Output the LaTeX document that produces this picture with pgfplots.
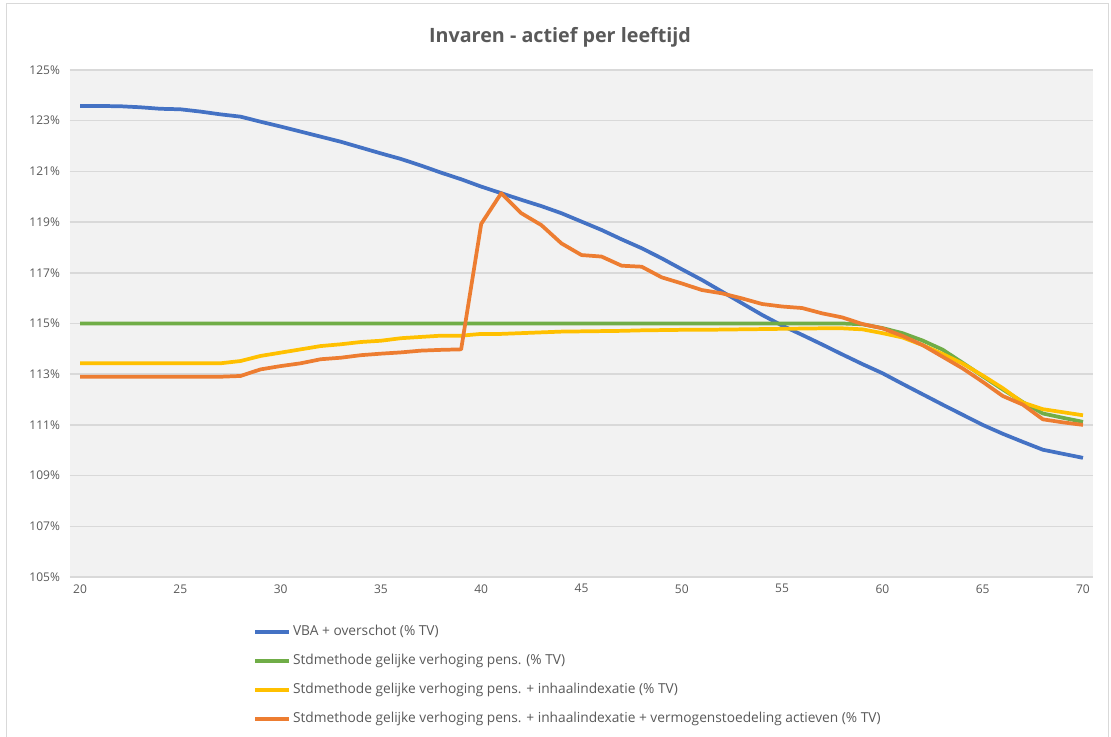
\documentclass[border=0pt]{standalone}
\usepackage{fontspec}
\setmainfont{Open Sans}
\usepackage{pgfplots}
\pgfplotsset{compat=1.18}

\definecolor{txtgray}{HTML}{595959}
\definecolor{gridgray}{HTML}{D9D9D9}
\definecolor{plotbg}{HTML}{F2F2F2}
\definecolor{xlblue}{HTML}{4472C4}
\definecolor{xlgreen}{HTML}{70AD47}
\definecolor{xlyellow}{HTML}{FFC000}
\definecolor{xlorange}{HTML}{ED7D31}

\begin{document}
\begin{tikzpicture}
\useasboundingbox (0,0) rectangle (833.25pt,552pt);
\draw[gridgray, line width=0.75pt] (5pt,-5pt) -- (5pt,549.5pt) -- (831pt,549.5pt) -- (831pt,-5pt);
\node[font=\fontsize{14.8}{17}\selectfont\bfseries, text=txtgray] at (420pt,524.25pt)
  {Invaren - actief per leeftijd};

\begin{axis}[
  at={(52.5pt,119.25pt)}, anchor=south west,
  scale only axis,
  width=767.25pt, height=380.25pt,
  xmin=19.5, xmax=70.5,
  ymin=105, ymax=125,
  xtick={20,25,...,70},
  ytick={105,107,...,125},
  yticklabel={\pgfmathprintnumber{\tick}\%},
  /pgf/number format/assume math mode=true,
  axis line style={draw=none},
  major tick length=0pt,
  ymajorgrids,
  grid style={gridgray, line width=1.1pt},
  axis background/.style={fill=plotbg},
  tick label style={font=\fontsize{9}{11}\selectfont, text=txtgray},
  yticklabel style={xshift=-4pt},
  xticklabel style={yshift=-2pt},
  legend style={at={(0.175,-0.088)}, anchor=north west, draw=none, fill=none,
    font=\fontsize{10.3}{12}\selectfont, text=txtgray,
    legend cell align=left, row sep=10.75pt,
    nodes={inner xsep=1.5pt, inner ysep=0pt, text height=8pt, text depth=3pt}},
  legend image code/.code={\draw[#1] (0pt,0pt) -- (25.5pt,0pt);},
  every axis plot/.append style={line width=2.8pt, line join=round},
]
\addplot[xlblue] coordinates {
  (20,123.58)(21,123.58)(22,123.57)(23,123.53)(24,123.47)(25,123.45)
  (26,123.36)(27,123.25)(28,123.16)(29,122.96)(30,122.77)(31,122.57)
  (32,122.37)(33,122.17)(34,121.94)(35,121.71)(36,121.49)(37,121.23)
  (38,120.95)(39,120.69)(40,120.40)(41,120.14)(42,119.88)(43,119.63)
  (44,119.35)(45,119.02)(46,118.69)(47,118.32)(48,117.97)(49,117.57)
  (50,117.14)(51,116.72)(52,116.26)(53,115.80)(54,115.34)(55,114.92)
  (56,114.55)(57,114.17)(58,113.78)(59,113.40)(60,113.04)(61,112.62)
  (62,112.21)(63,111.80)(64,111.40)(65,111.00)(66,110.65)(67,110.33)
  (68,110.02)(69,109.86)(70,109.70)
};
\addlegendentry{VBA + overschot (\% TV)}

\addplot[xlgreen] coordinates {
  (20,115.00)(21,115.00)(22,115.00)(23,115.00)(24,115.00)(25,115.00)
  (26,115.00)(27,115.00)(28,115.00)(29,115.00)(30,115.00)(31,115.00)
  (32,115.00)(33,115.00)(34,115.00)(35,115.00)(36,115.00)(37,115.00)
  (38,115.00)(39,115.00)(40,115.00)(41,115.00)(42,115.00)(43,115.00)
  (44,115.00)(45,115.00)(46,115.00)(47,115.00)(48,115.00)(49,115.00)
  (50,115.00)(51,115.00)(52,115.00)(53,115.00)(54,115.00)(55,115.00)
  (56,115.00)(57,115.00)(58,115.00)(59,114.97)(60,114.82)(61,114.62)
  (62,114.33)(63,113.97)(64,113.45)(65,112.92)(66,112.40)(67,111.90)
  (68,111.45)(69,111.28)(70,111.12)
};
\addlegendentry{Stdmethode gelijke verhoging pens. (\% TV)}

\addplot[xlyellow] coordinates {
  (20,113.43)(21,113.43)(22,113.43)(23,113.43)(24,113.43)(25,113.43)
  (26,113.43)(27,113.43)(28,113.52)(29,113.72)(30,113.85)(31,113.98)
  (32,114.11)(33,114.18)(34,114.27)(35,114.32)(36,114.42)(37,114.47)
  (38,114.52)(39,114.52)(40,114.59)(41,114.59)(42,114.62)(43,114.65)
  (44,114.68)(45,114.69)(46,114.70)(47,114.71)(48,114.73)(49,114.74)
  (50,114.75)(51,114.75)(52,114.76)(53,114.77)(54,114.78)(55,114.79)
  (56,114.80)(57,114.81)(58,114.81)(59,114.77)(60,114.62)(61,114.45)
  (62,114.15)(63,113.80)(64,113.42)(65,112.95)(66,112.45)(67,111.88)
  (68,111.62)(69,111.50)(70,111.38)
};
\addlegendentry{Stdmethode gelijke verhoging pens. + inhaalindexatie (\% TV)}

\addplot[xlorange] coordinates {
  (20,112.90)(21,112.90)(22,112.90)(23,112.90)(24,112.90)(25,112.90)
  (26,112.90)(27,112.90)(28,112.93)(29,113.19)(30,113.32)(31,113.43)
  (32,113.59)(33,113.65)(34,113.75)(35,113.81)(36,113.86)(37,113.93)
  (38,113.96)(39,113.98)(40,118.93)(41,120.14)(42,119.35)(43,118.88)
  (44,118.16)(45,117.70)(46,117.64)(47,117.28)(48,117.24)(49,116.82)
  (50,116.58)(51,116.32)(52,116.19)(53,115.99)(54,115.77)(55,115.67)
  (56,115.61)(57,115.40)(58,115.24)(59,114.98)(60,114.81)(61,114.51)
  (62,114.15)(63,113.69)(64,113.23)(65,112.70)(66,112.14)(67,111.80)
  (68,111.22)(69,111.10)(70,111.00)
};
\addlegendentry{Stdmethode gelijke verhoging pens. + inhaalindexatie + vermogenstoedeling actieven (\% TV)}
\end{axis}
\end{tikzpicture}
\end{document}
